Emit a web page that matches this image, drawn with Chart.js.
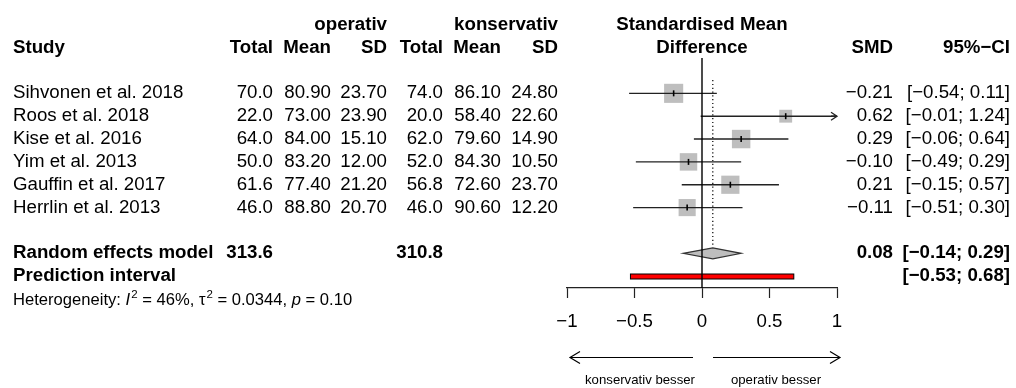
<!DOCTYPE html>
<html>
<head>
<meta charset="utf-8">
<title>Forest plot</title>
<script src="https://cdn.jsdelivr.net/npm/chart.js@4.4.0/dist/chart.umd.min.js"></script>
<style>
  html, body { margin: 0; padding: 0; background: #fff; }
  #wrap { width: 1016px; height: 388px; }
</style>
</head>
<body>
<div id="wrap"><canvas id="forest" width="1016" height="388"></canvas></div>
<script>
// Study data
const studies = ['Sihvonen et al. 2018', 'Roos et al. 2018', 'Kise et al. 2016',
                 'Yim et al. 2013', 'Gauffin et al. 2017', 'Herrlin et al. 2013'];
const opTotal = [70.0, 22.0, 64.0, 50.0, 61.6, 46.0];
const opMean = [80.90, 73.00, 84.00, 83.20, 77.40, 88.80];
const opSD = [23.70, 23.90, 15.10, 12.00, 21.20, 20.70];
const konTotal = [74.0, 20.0, 62.0, 52.0, 56.8, 46.0];
const konMean = [86.10, 58.40, 79.60, 84.30, 72.60, 90.60];
const konSD = [24.80, 22.60, 14.90, 10.50, 23.70, 12.20];
const smd = [-0.21, 0.62, 0.29, -0.10, 0.21, -0.11];
const ciLower = [-0.54, -0.01, -0.06, -0.49, -0.15, -0.51];
const ciUpper = [0.11, 1.24, 0.64, 0.29, 0.57, 0.30];

// Pooled results
const reTotals = [313.6, 310.8];
const reEstimate = [0.08, -0.14, 0.29];   // SMD, lower, upper
const predInterval = [-0.53, 0.68];
const heterogeneity = { i2: 46, tau2: 0.0344, p: 0.10 };

const xTicks = [-1, -0.5, 0, 0.5, 1];

// Layout constants
const FONT = "'Liberation Sans', Arial, Helvetica, sans-serif";
const FS = 18.7;
const Y_MIN = -1.547, Y_MAX = 8.519;
const RE_ROW = 7, PI_ROW = 8, HET_ROW = 9;
const BOX_SCALE = 4.75;
const COL = { study: 13, opTotal: 273, opMean: 331, opSD: 387, konTotal: 443,
              konMean: 501, konSD: 558, smd: 893, ci: 1010 };

function fmt(v, d) {
    return v.toFixed(d).replace('-', '\u2212');
}

// box side from random effects weight
function boxSide(i) {
    const se = (ciUpper[i] - ciLower[i]) / (2 * 1.96);
    return BOX_SCALE * Math.sqrt(1 / (se * se + heterogeneity.tau2));
}

function buildDatasets() {
    const sets = [];
    const xMax = xTicks[xTicks.length - 1];

    // weight squares
    sets.push({
        data: smd.map((v, i) => ({ x: v, y: i })),
        showLine: false,
        pointStyle: 'rect',
        pointRadius: ctx => boxSide(ctx.dataIndex) / Math.SQRT2,
        pointBackgroundColor: '#bebebe',
        pointBorderWidth: 0,
        order: 4
    });

    // confidence intervals
    studies.forEach((s, i) => {
        sets.push({
            data: [{ x: ciLower[i], y: i }, { x: Math.min(ciUpper[i], xMax), y: i }],
            showLine: true,
            borderColor: '#222',
            borderWidth: 1.4,
            pointRadius: 0,
            order: 3
        });
    });

    // estimate marks
    sets.push({
        data: smd.map((v, i) => ({ x: v, y: i })),
        showLine: false,
        pointStyle: 'line',
        pointRotation: 90,
        pointRadius: 3,
        pointBorderColor: '#000',
        pointBorderWidth: 1.6,
        order: 2
    });

    // line of no effect
    sets.push({
        data: [{ x: 0, y: Y_MIN }, { x: 0, y: Y_MAX }],
        showLine: true,
        borderColor: '#000',
        borderWidth: 1.4,
        pointRadius: 0,
        order: 1
    });

    // pooled estimate (dotted)
    sets.push({
        data: [{ x: reEstimate[0], y: -0.58 }, { x: reEstimate[0], y: RE_ROW - 0.27 }],
        showLine: true,
        borderColor: '#000',
        borderWidth: 1.2,
        borderDash: [1.2, 2.6],
        pointRadius: 0,
        order: 1
    });
    return sets;
}

function arrow(ctx, x1, y, x2, len, half) {
    const dir = x2 > x1 ? 1 : -1;
    ctx.beginPath();
    ctx.moveTo(x1, y);
    ctx.lineTo(x2, y);
    ctx.moveTo(x2 - dir * len, y - half);
    ctx.lineTo(x2, y);
    ctx.lineTo(x2 - dir * len, y + half);
    ctx.stroke();
}

// diamond + prediction bar, drawn under the lines
const shapesPlugin = {
    id: 'shapes',
    beforeDatasetsDraw(chart) {
        const ctx = chart.ctx;
        const x = chart.scales.x, y = chart.scales.y;
        ctx.save();

        const yr = y.getPixelForValue(RE_ROW);
        ctx.beginPath();
        ctx.moveTo(x.getPixelForValue(reEstimate[1]), yr);
        ctx.lineTo(x.getPixelForValue(reEstimate[0]), yr - 5.5);
        ctx.lineTo(x.getPixelForValue(reEstimate[2]), yr);
        ctx.lineTo(x.getPixelForValue(reEstimate[0]), yr + 5.5);
        ctx.closePath();
        ctx.fillStyle = '#bebebe';
        ctx.fill();
        ctx.strokeStyle = '#333';
        ctx.lineWidth = 1.2;
        ctx.stroke();

        const yp = Math.round(y.getPixelForValue(PI_ROW)) + 0.5;
        const px1 = x.getPixelForValue(predInterval[0]);
        const px2 = x.getPixelForValue(predInterval[1]);
        ctx.fillStyle = '#ff0000';
        ctx.fillRect(px1, yp - 2.5, px2 - px1, 5);
        ctx.strokeStyle = '#000';
        ctx.lineWidth = 1;
        ctx.strokeRect(px1, yp - 2.5, px2 - px1, 5);
        ctx.restore();
    },
    afterDatasetsDraw(chart) {
        // arrow for intervals running past the axis
        const ctx = chart.ctx;
        const x = chart.scales.x, y = chart.scales.y;
        ctx.save();
        ctx.strokeStyle = '#222';
        ctx.lineWidth = 1.3;
        ciUpper.forEach((hi, i) => {
            if (hi > x.max) {
                const yy = y.getPixelForValue(i);
                arrow(ctx, x.right - 6, yy, x.right, 6, 4);
            }
        });
        ctx.restore();
    }
};

// table text, headings and bottom labels
const textPlugin = {
    id: 'tableText',
    afterDraw(chart) {
        const ctx = chart.ctx;
        const x = chart.scales.x, y = chart.scales.y;
        const rowY = r => y.getPixelForValue(r);
        const put = (str, px, r, align, bold, size) => {
            ctx.font = (bold ? 'bold ' : '') + (size || FS) + 'px ' + FONT;
            ctx.textAlign = align;
            ctx.fillText(str, px, typeof r === 'number' && r < 50 ? rowY(r) : r);
        };
        ctx.save();
        ctx.fillStyle = '#000';
        ctx.textBaseline = 'middle';

        // headings
        put('operativ', COL.opSD, -3, 'right', true);
        put('konservativ', COL.konSD, -3, 'right', true);
        put('Standardised Mean', x.getPixelForValue(0), -3, 'center', true);
        put('Study', COL.study, -2, 'left', true);
        put('Total', COL.opTotal, -2, 'right', true);
        put('Mean', COL.opMean, -2, 'right', true);
        put('SD', COL.opSD, -2, 'right', true);
        put('Total', COL.konTotal, -2, 'right', true);
        put('Mean', COL.konMean, -2, 'right', true);
        put('SD', COL.konSD, -2, 'right', true);
        put('Difference', x.getPixelForValue(0), -2, 'center', true);
        put('SMD', COL.smd, -2, 'right', true);
        put('95%\u2212CI', COL.ci, -2, 'right', true);

        // study rows
        studies.forEach((s, i) => {
            put(s, COL.study, i, 'left');
            put(opTotal[i].toFixed(1), COL.opTotal, i, 'right');
            put(opMean[i].toFixed(2), COL.opMean, i, 'right');
            put(opSD[i].toFixed(2), COL.opSD, i, 'right');
            put(konTotal[i].toFixed(1), COL.konTotal, i, 'right');
            put(konMean[i].toFixed(2), COL.konMean, i, 'right');
            put(konSD[i].toFixed(2), COL.konSD, i, 'right');
            put(fmt(smd[i], 2), COL.smd, i, 'right');
            put('[' + fmt(ciLower[i], 2) + '; ' + fmt(ciUpper[i], 2) + ']', COL.ci, i, 'right');
        });

        // pooled rows
        put('Random effects model', COL.study, RE_ROW, 'left', true);
        put(reTotals[0].toFixed(1), COL.opTotal, RE_ROW, 'right', true);
        put(reTotals[1].toFixed(1), COL.konTotal, RE_ROW, 'right', true);
        put(fmt(reEstimate[0], 2), COL.smd, RE_ROW, 'right', true);
        put('[' + fmt(reEstimate[1], 2) + '; ' + fmt(reEstimate[2], 2) + ']', COL.ci, RE_ROW, 'right', true);
        put('Prediction interval', COL.study, PI_ROW, 'left', true);
        put('[' + fmt(predInterval[0], 2) + '; ' + fmt(predInterval[1], 2) + ']', COL.ci, PI_ROW, 'right', true);

        // heterogeneity line with superscripts
        const hs = 16.6, sup = 11.5;
        const hy = rowY(HET_ROW) + 1.5;
        const pieces = [
            ['Heterogeneity: ', ''], ['I', 'italic '], ['2', 'sup'],
            [' = ' + heterogeneity.i2 + '%, ', ''], ['\u03c4', ''], ['2', 'sup'],
            [' = ' + heterogeneity.tau2.toFixed(4) + ', ', ''], ['p', 'italic '],
            [' = ' + heterogeneity.p.toFixed(2), '']
        ];
        let hx = COL.study;
        ctx.textAlign = 'left';
        pieces.forEach(([t, st]) => {
            if (st === 'sup') {
                ctx.font = sup + 'px ' + FONT;
                ctx.fillText(t, hx + 1, hy - 6);
                hx += ctx.measureText(t).width + 1;
            } else {
                ctx.font = st + hs + 'px ' + FONT;
                ctx.fillText(t, hx, hy);
                hx += ctx.measureText(t).width;
            }
        });

        // direction arrows under the axis
        const zero = x.getPixelForValue(0);
        ctx.strokeStyle = '#000';
        ctx.lineWidth = 1.2;
        arrow(ctx, zero - 9, 357.5, x.left + 3, 10, 6);
        arrow(ctx, zero + 11, 357.5, x.right + 3, 10, 6);
        put('konservativ besser', zero - 62, 380, 'center', false, 13.2);
        put('operativ besser', zero + 74, 380, 'center', false, 13.2);
        ctx.restore();
    }
};

function drawForest() {
    const ctx = document.getElementById('forest');
    Chart.defaults.font.family = FONT;

    new Chart(ctx, {
        type: 'scatter',
        data: { datasets: buildDatasets() },
        options: {
            responsive: false,
            animation: false,
            events: [],
            layout: { padding: { left: 567, right: 179, top: 58, bottom: 50 } },
            plugins: {
                legend: { display: false },
                tooltip: { enabled: false }
            },
            scales: {
                x: {
                    type: 'linear',
                    min: xTicks[0],
                    max: xTicks[xTicks.length - 1],
                    afterBuildTicks: s => { s.ticks = xTicks.map(v => ({ value: v })); },
                    afterFit: s => { s.height = 50; },
                    border: { display: true, color: '#222', width: 1.2 },
                    grid: {
                        display: true,
                        drawOnChartArea: false,
                        drawTicks: true,
                        tickLength: 10,
                        color: '#222',
                        tickColor: '#222',
                        tickWidth: 1.2
                    },
                    ticks: {
                        color: '#000',
                        font: { size: FS },
                        padding: 13,
                        maxRotation: 0,
                        autoSkip: false,
                        callback: v => fmt(v, v % 1 === 0 ? 0 : 1)
                    }
                },
                y: {
                    type: 'linear',
                    display: false,
                    reverse: true,
                    min: Y_MIN,
                    max: Y_MAX
                }
            }
        },
        plugins: [shapesPlugin, textPlugin]
    });
}

drawForest();
</script>
</body>
</html>
